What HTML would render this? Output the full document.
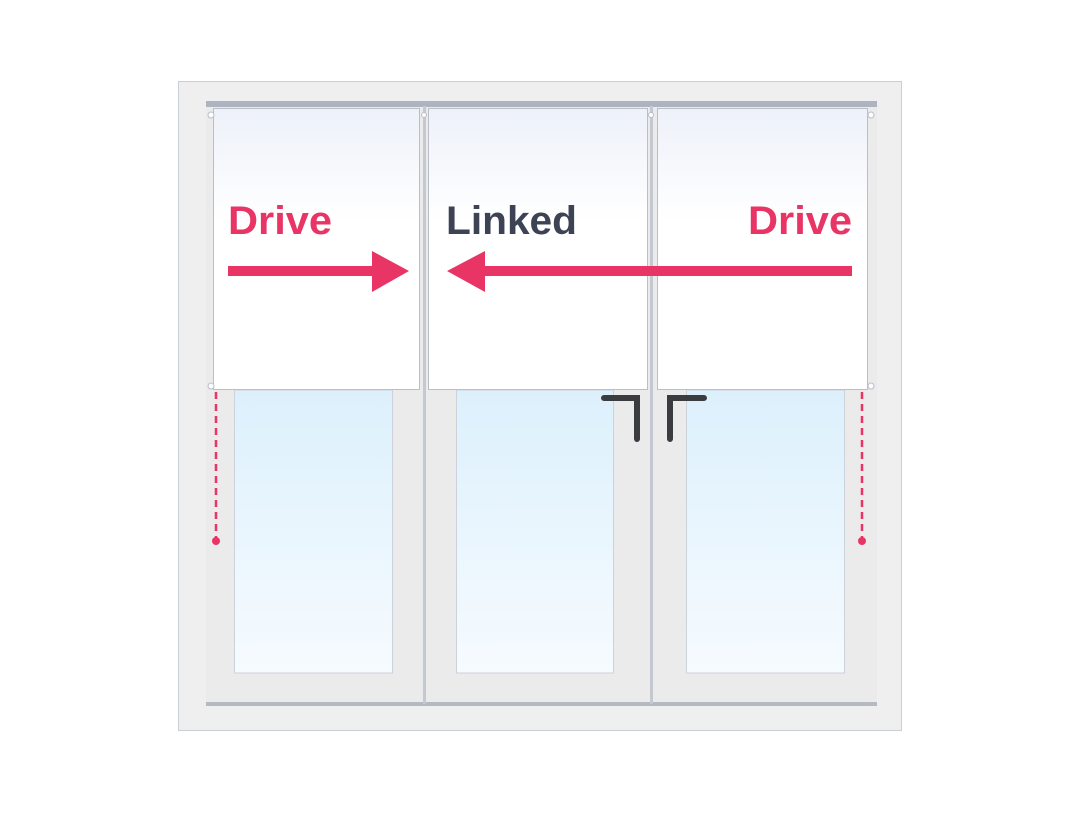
<!DOCTYPE html>
<html><head><style>body{margin:0;background:#fff}svg{display:block}</style></head><body>
<svg width="1080" height="813" viewBox="0 0 1080 813" xmlns="http://www.w3.org/2000/svg">
<defs>
<linearGradient id="gl" x1="0" y1="0" x2="0" y2="1"><stop offset="0" stop-color="#dcf0fc"/><stop offset="1" stop-color="#f6fbff"/></linearGradient>
<linearGradient id="bl" x1="0" y1="0" x2="0" y2="1"><stop offset="0" stop-color="#edf1f9"/><stop offset="0.4" stop-color="#ffffff"/><stop offset="1" stop-color="#ffffff"/></linearGradient>
</defs>
<rect x="178.5" y="81.5" width="723" height="649" fill="#efefef" stroke="#c9cdd5"/>
<rect x="206" y="106" width="671" height="598" fill="#ebebeb"/>
<rect x="206" y="101" width="671" height="6" fill="#adb3bf"/>
<rect x="206" y="702" width="671" height="4" fill="#b4b9c3"/>
<rect x="423" y="106" width="3" height="598" fill="#c4c8d0"/>
<rect x="650" y="106" width="3" height="598" fill="#c4c8d0"/>
<rect x="234.5" y="390" width="158" height="283" fill="url(#gl)" stroke="#cdd1da"/>
<rect x="456.5" y="390" width="157" height="283" fill="url(#gl)" stroke="#cdd1da"/>
<rect x="686.5" y="390" width="158" height="283" fill="url(#gl)" stroke="#cdd1da"/>
<g fill="url(#bl)" stroke="#b9bec9">
<rect x="213.5" y="108.5" width="206" height="281"/>
<rect x="428.5" y="108.5" width="219" height="281"/>
<rect x="657.5" y="108.5" width="210" height="281"/>
</g>
<g fill="#fff" stroke="#b9bec9">
<circle cx="211" cy="115" r="3"/><circle cx="211" cy="386" r="3"/>
<circle cx="871" cy="115" r="3"/><circle cx="871" cy="386" r="3"/>
<circle cx="424" cy="115" r="2.5"/><circle cx="651" cy="115" r="2.5"/>
</g>
<g font-family="Liberation Sans, sans-serif" font-weight="bold" font-size="40">
<text x="228" y="234" fill="#e83565" textLength="104" lengthAdjust="spacingAndGlyphs">Drive</text>
<text x="446" y="234" fill="#3d4255" textLength="131" lengthAdjust="spacingAndGlyphs">Linked</text>
<text x="748" y="234" fill="#e83565" textLength="104" lengthAdjust="spacingAndGlyphs">Drive</text>
</g>
<g fill="#e83565">
<rect x="228" y="266" width="146" height="10"/>
<polygon points="372,251 409,271 372,292"/>
<rect x="483" y="266" width="369" height="10"/>
<polygon points="485,251 447,271 485,292"/>
</g>
<g stroke="#3b3c40" stroke-width="6" stroke-linecap="round" fill="none">
<path d="M604,398 H637 V439"/>
<path d="M704,398 H670 V439"/>
</g>
<g stroke="#e83565" stroke-width="2.5" stroke-dasharray="7,5">
<line x1="216" y1="392" x2="216" y2="540"/>
<line x1="862" y1="392" x2="862" y2="540"/>
</g>
<circle cx="216" cy="541" r="4" fill="#e83565"/>
<circle cx="862" cy="541" r="4" fill="#e83565"/>
</svg>
</body></html>
